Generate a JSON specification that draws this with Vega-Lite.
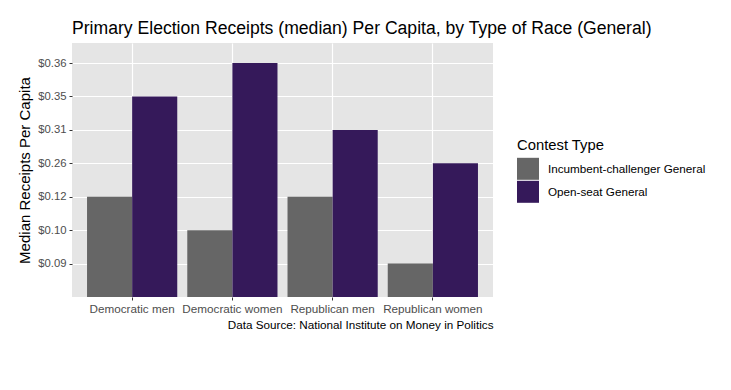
{
  "$schema": "https://vega.github.io/schema/vega-lite/v6.json",
  "width": 421,
  "height": 254,
  "autosize": {"type": "none"},
  "padding": {"left": 72, "top": 43, "right": 238, "bottom": 93},
  "background": "white",
  "title": {
    "text": "Primary Election Receipts (median) Per Capita, by Type of Race (General)",
    "anchor": "start",
    "frame": "group",
    "font": "Liberation Sans",
    "fontSize": 17.6,
    "fontWeight": "normal",
    "color": "black",
    "baseline": "alphabetic",
    "offset": 10,
    "dy": 19
  },
  "data": {
    "values": [
      {"group": "Democratic men", "type": "Incumbent-challenger General", "receipts": "$0.12", "level": 3},
      {"group": "Democratic men", "type": "Open-seat General", "receipts": "$0.35", "level": 6},
      {"group": "Democratic women", "type": "Incumbent-challenger General", "receipts": "$0.10", "level": 2},
      {"group": "Democratic women", "type": "Open-seat General", "receipts": "$0.36", "level": 7},
      {"group": "Republican men", "type": "Incumbent-challenger General", "receipts": "$0.12", "level": 3},
      {"group": "Republican men", "type": "Open-seat General", "receipts": "$0.31", "level": 5},
      {"group": "Republican women", "type": "Incumbent-challenger General", "receipts": "$0.09", "level": 1},
      {"group": "Republican women", "type": "Open-seat General", "receipts": "$0.26", "level": 4}
    ]
  },
  "mark": {"type": "bar"},
  "encoding": {
    "x": {
      "field": "group",
      "type": "nominal",
      "sort": null,
      "scale": {"paddingInner": 0.1, "paddingOuter": 0.15},
      "axis": {
        "title": "Data Source: National Institute on Money in Politics",
        "titleAnchor": "end",
        "titleFont": "Liberation Sans",
        "titleFontSize": 11.7,
        "titleFontWeight": "normal",
        "titleColor": "black",
        "titlePadding": 5,
        "labelAngle": 0,
        "labelFont": "Liberation Sans",
        "labelFontSize": 11.7,
        "labelColor": "#4d4d4d",
        "labelPadding": 3,
        "bandPosition": 0.5,
        "tickColor": "#333333",
        "tickSize": 3,
        "domain": false,
        "grid": true,
        "gridColor": "white",
        "gridWidth": 1.2
      }
    },
    "xOffset": {"field": "type", "type": "nominal"},
    "y": {
      "field": "level",
      "type": "quantitative",
      "scale": {"domain": [0, 7.6], "nice": false, "zero": false},
      "axis": {
        "title": "Median Receipts Per Capita",
        "titleFont": "Liberation Sans",
        "titleFontSize": 15,
        "titleFontWeight": "normal",
        "titleColor": "black",
        "titlePadding": 5,
        "values": [1, 2, 3, 4, 5, 6, 7],
        "labelExpr": "['', '$0.09', '$0.10', '$0.12', '$0.26', '$0.31', '$0.35', '$0.36'][datum.value]",
        "labelFont": "Liberation Sans",
        "labelFontSize": 11.3,
        "labelColor": "#4d4d4d",
        "labelPadding": 3,
        "tickColor": "#333333",
        "tickSize": 3,
        "domain": false,
        "grid": true,
        "gridColor": "white",
        "gridWidth": 1.2
      }
    },
    "color": {
      "field": "type",
      "type": "nominal",
      "scale": {"domain": ["Incumbent-challenger General", "Open-seat General"], "range": ["#666666", "#35195a"]},
      "legend": {
        "title": "Contest Type",
        "orient": "none",
        "legendX": 445,
        "legendY": 95,
        "titleFont": "Liberation Sans",
        "titleFontSize": 14.8,
        "titleFontWeight": "normal",
        "titleColor": "black",
        "titlePadding": 5,
        "labelFont": "Liberation Sans",
        "labelFontSize": 11.7,
        "labelColor": "black",
        "labelOffset": 9,
        "symbolType": "square",
        "symbolSize": 484,
        "symbolStrokeWidth": 0,
        "symbolOpacity": 1,
        "rowPadding": 1
      }
    }
  },
  "config": {
    "view": {"fill": "#e5e5e5", "stroke": null},
    "font": "Liberation Sans"
  }
}
